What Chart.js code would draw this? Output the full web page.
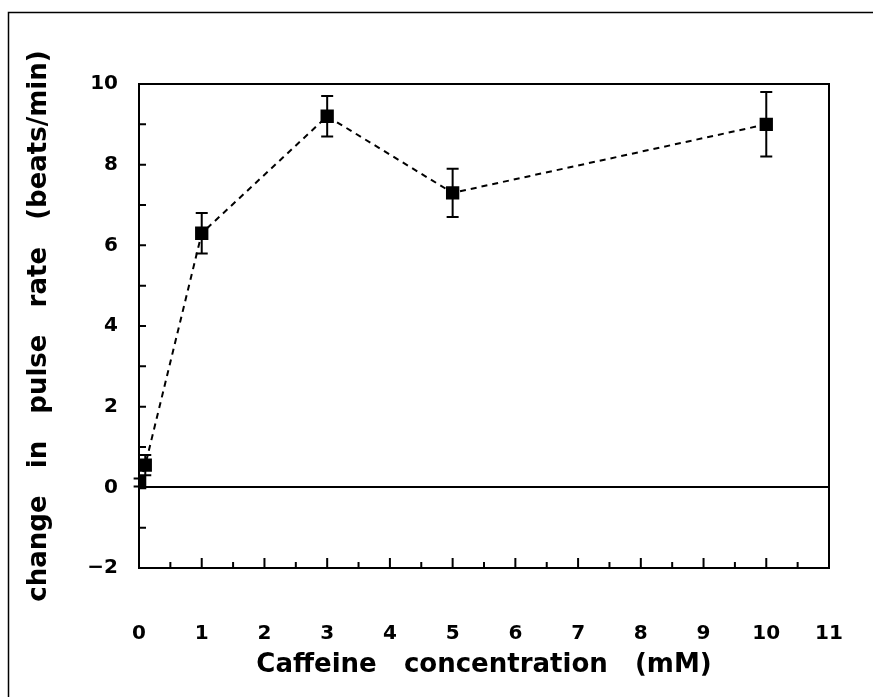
<!DOCTYPE html>
<html>
<head>
<meta charset="utf-8">
<title>Caffeine and pulse rate</title>
<script src="https://cdn.jsdelivr.net/npm/chart.js@4/dist/chart.umd.min.js"></script>
<style>
    html, body { margin: 0; padding: 0; background: #fff; }
    canvas { display: block; }
</style>
</head>
<body>
<canvas id="pulseChart" width="873" height="697"></canvas>
<script>
// Data
const concentration = [0.01, 0.1, 1, 3, 5, 10];        // mM
const pulseChange = [0.12, 0.55, 6.3, 9.2, 7.3, 9.0];   // beats/min
const pulseError = [0.1, 0.25, 0.5, 0.5, 0.6, 0.8];     // +/- error bars

const xTickValues = [0, 1, 2, 3, 4, 5, 6, 7, 8, 9, 10, 11];
const xMinorTicks = [0.5, 1.5, 2.5, 3.5, 4.5, 5.5, 6.5, 7.5, 8.5, 9.5, 10.5];
const yTickValues = [-2, 0, 2, 4, 6, 8, 10];
const yMinorTicks = [-1, 1, 3, 5, 7, 9];

const FONT = '"DejaVu Sans", "Liberation Sans", sans-serif';

// White page, outer frame and the plot box
const framePlugin = {
    id: 'frame',
    beforeDraw(chart) {
        const ctx = chart.ctx;
        ctx.save();
        ctx.fillStyle = '#fff';
        ctx.fillRect(0, 0, chart.width, chart.height);
        ctx.strokeStyle = '#000';
        ctx.lineWidth = 1.5;
        ctx.strokeRect(8.5, 12.5, chart.width + 20, chart.height + 20);
        ctx.restore();
    },
    afterDatasetsDraw(chart) {
        const ctx = chart.ctx;
        const a = chart.chartArea;
        ctx.save();
        ctx.strokeStyle = '#000';
        ctx.lineWidth = 2;
        ctx.strokeRect(a.left, a.top, a.right - a.left, a.bottom - a.top);
        ctx.restore();
    }
};

// Ticks pointing into the plot
const innerTicksPlugin = {
    id: 'innerTicks',
    afterDatasetsDraw(chart) {
        const ctx = chart.ctx;
        const x = chart.scales.x;
        const y = chart.scales.y;
        const a = chart.chartArea;
        ctx.save();
        ctx.strokeStyle = '#000';
        ctx.lineWidth = 2;
        ctx.beginPath();
        xTickValues.forEach(v => {
            const px = x.getPixelForValue(v);
            ctx.moveTo(px, a.bottom);
            ctx.lineTo(px, a.bottom - 10);
        });
        xMinorTicks.forEach(v => {
            const px = x.getPixelForValue(v);
            ctx.moveTo(px, a.bottom);
            ctx.lineTo(px, a.bottom - 6);
        });
        yTickValues.concat(yMinorTicks).forEach(v => {
            const py = y.getPixelForValue(v);
            ctx.moveTo(a.left, py);
            ctx.lineTo(a.left + 7, py);
        });
        ctx.stroke();
        ctx.restore();
    }
};

// Vertical error bars with caps
const errorBarPlugin = {
    id: 'errorBars',
    afterDatasetsDraw(chart) {
        const ctx = chart.ctx;
        const x = chart.scales.x;
        const y = chart.scales.y;
        const cap = 6;
        ctx.save();
        ctx.strokeStyle = '#000';
        ctx.lineWidth = 2;
        ctx.beginPath();
        concentration.forEach((c, i) => {
            const px = x.getPixelForValue(c);
            const top = y.getPixelForValue(pulseChange[i] + pulseError[i]);
            const bot = y.getPixelForValue(pulseChange[i] - pulseError[i]);
            ctx.moveTo(px, top);
            ctx.lineTo(px, bot);
            ctx.moveTo(px - cap, top);
            ctx.lineTo(px + cap, top);
            ctx.moveTo(px - cap, bot);
            ctx.lineTo(px + cap, bot);
        });
        ctx.stroke();
        ctx.restore();
    }
};

const ctx = document.getElementById('pulseChart').getContext('2d');
new Chart(ctx, {
    type: 'line',
    data: {
        datasets: [{
            data: concentration.map((c, i) => ({ x: c, y: pulseChange[i] })),
            borderColor: '#000',
            borderWidth: 2,
            borderDash: [6, 5],
            backgroundColor: '#000',
            pointStyle: 'rect',
            pointRadius: 8,
            pointBackgroundColor: '#000',
            pointBorderColor: '#000',
            tension: 0,
            fill: false
        }]
    },
    options: {
        responsive: false,
        animation: false,
        layout: {
            autoPadding: false,
            padding: { left: 0, top: 84, right: 44, bottom: 0 }
        },
        plugins: {
            legend: { display: false },
            tooltip: { enabled: false }
        },
        scales: {
            x: {
                type: 'linear',
                min: 0,
                max: 11,
                afterFit: scale => {
                    scale.height = 129;
                    // tick padding would otherwise eat into the right side
                    scale.paddingLeft = 0;
                    scale.paddingRight = 0;
                },
                afterBuildTicks: scale => {
                    scale.ticks = xTickValues.map(v => ({ value: v }));
                },
                grid: { display: false, drawTicks: false },
                border: { display: false },
                ticks: {
                    padding: 54,
                    color: '#000',
                    font: { family: FONT, size: 20, weight: 'bold' }
                },
                title: {
                    display: true,
                    text: 'Caffeine   concentration   (mM)',
                    color: '#000',
                    font: { family: FONT, size: 26, weight: 'bold' },
                    padding: { top: 0, bottom: 16 }
                }
            },
            y: {
                min: -2,
                max: 10,
                afterFit: scale => { scale.width = 139; },
                afterBuildTicks: scale => {
                    scale.ticks = yTickValues.map(v => ({ value: v }));
                },
                grid: {
                    drawTicks: false,
                    lineWidth: 2,
                    color: c => (c.tick && c.tick.value === 0 ? '#000' : 'rgba(0,0,0,0)')
                },
                border: { display: false },
                ticks: {
                    padding: 21,
                    color: '#000',
                    font: { family: FONT, size: 20, weight: 'bold' },
                    callback: v => String(v).replace('-', '\u2212')
                },
                title: {
                    display: true,
                    text: 'change   in   pulse   rate   (beats/min)',
                    color: '#000',
                    font: { family: FONT, size: 26, weight: 'bold' },
                    padding: { top: 24, bottom: 0 }
                }
            }
        }
    },
    plugins: [framePlugin, errorBarPlugin, innerTicksPlugin]
});
</script>
</body>
</html>
